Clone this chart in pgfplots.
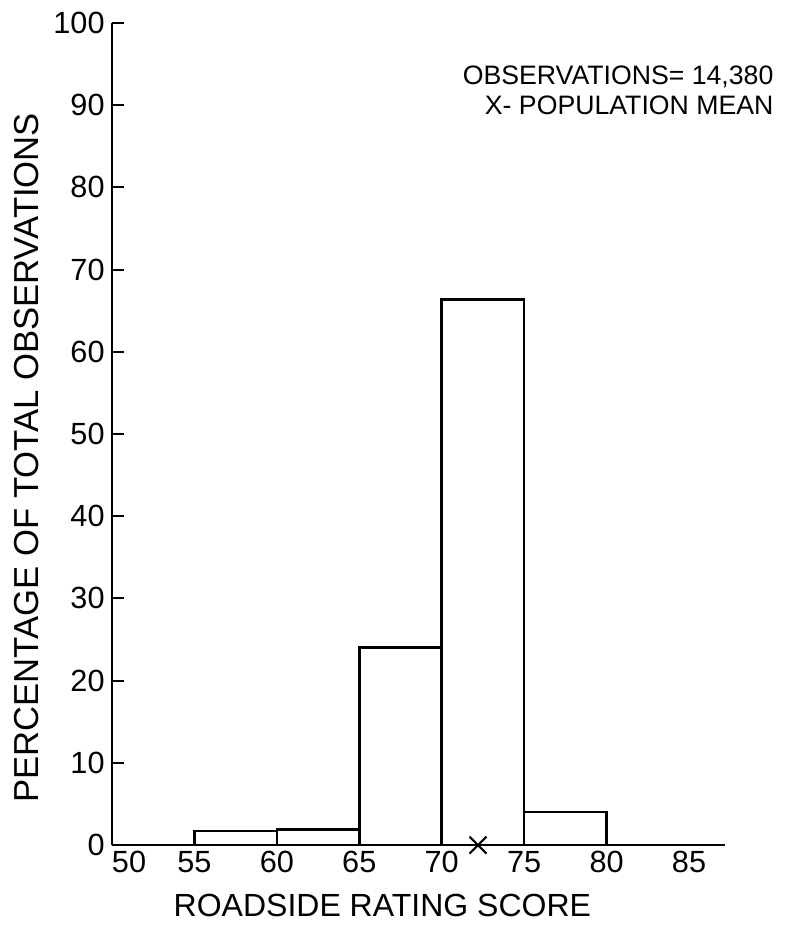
\documentclass[border=0pt]{standalone}
\usepackage{fontspec}
\setmainfont{Liberation Sans}
\usepackage{pgfplots}
\pgfplotsset{compat=1.18}
\begin{document}
\begin{tikzpicture}
\begin{axis}[
  name=ax,
  scale only axis,
  width=460pt, height=616.5pt,
  xmin=50, xmax=87.2, ymin=0, ymax=100,
  axis lines=left,
  axis line style={-, line width=2pt},
  clip=false,
  xtick={50,55,60,65,70,75,80,85},
  xticklabels={\makebox[0pt][l]{50},55,60,65,70,75,80,85},
  ytick={0,10,...,100},
  x tick style={draw=none},
  y tick style={line width=1.6pt, black},
  major tick length=9pt,
  tick label style={font=\fontsize{23}{25}\selectfont},
  /pgf/number format/assume math mode=true,
  xticklabel style={yshift=-1pt},
  yticklabel style={xshift=-2pt},
  every inner y axis line/.append style={},
  tick align=inside,
  ytick align=inside,
]
\addplot[ybar interval, draw=black, fill=white, line width=2pt]
  coordinates {(55,1.7) (60,1.9) (65,24) (70,66.4) (75,4.0) (80,4.0)};
\addplot[only marks, mark=x, mark size=9pt, mark options={line width=1.6pt}, black]
  coordinates {(72.2,0)};
\node[anchor=east, align=right, font=\fontsize{20}{22.5}\selectfont]
  at (axis cs:90.4,91.8) {OBSERVATIONS= 14,380\\X- POPULATION MEAN};
\node[rotate=90, font=\fontsize{26}{28}\selectfont]
  at (axis cs:44.85,47.1) {PERCENTAGE OF TOTAL OBSERVATIONS};
\node[font=\fontsize{24}{26}\selectfont]
  at (axis cs:66.4,-7.3) {ROADSIDE RATING SCORE};
\coordinate (bl) at (axis cs:43.21,-10.7);
\coordinate (tr) at (axis cs:91.03,102.8);
\end{axis}
\pgfresetboundingbox
\path (bl) rectangle (tr);
\end{tikzpicture}
\end{document}
